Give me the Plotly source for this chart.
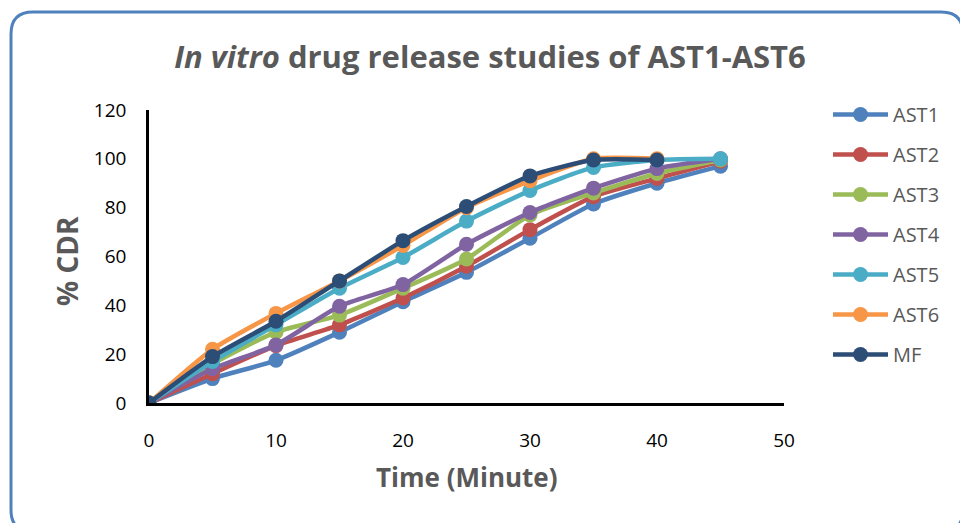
import plotly.graph_objects as go

time_all = [0, 5, 10, 15, 20, 25, 30, 35, 40, 45]
series_names = ["AST1", "AST2", "AST3", "AST4", "AST5", "AST6", "MF"]
ast1 = [0, 10, 17.5, 29, 41.5, 53.5, 67.5, 81.5, 90, 97]
ast2 = [0, 12, 23.5, 32, 43, 56, 71, 84.5, 92, 99]
ast3 = [0, 16, 29, 36, 47, 59, 77, 86, 94, 99.5]
ast4 = [0, 14, 23.8, 39.6, 48.5, 65, 78, 88, 96, 100]
ast5 = [0, 17, 32, 47, 59.6, 74.5, 87, 96.5, 99.5, 100]
ast6 = [0, 22, 36.7, 50, 64.5, 80, 91, 100, 100]
mf = [0, 19, 33.5, 50, 66.5, 80.5, 93, 99.5, 99.5]
series_values = [ast1, ast2, ast3, ast4, ast5, ast6, mf]
colors = ["#4F81BD", "#C0504D", "#9BBB59", "#8064A2", "#4BACC6", "#F79646", "#2C4D75"]
x_ticks = [0, 10, 20, 30, 40, 50]
y_ticks = [0, 20, 40, 60, 80, 100, 120]

W, H = 960, 523
L, R, T, B = 149, 176, 110, 120
pw, ph = W - L - R, H - T - B

fig = go.Figure()
for name, vals, col in zip(series_names, series_values, colors):
    fig.add_trace(go.Scatter(
        x=time_all[:len(vals)], y=vals, name=name, mode="lines+markers",
        line=dict(color=col, width=4.5, shape="spline", smoothing=0.6),
        marker=dict(color=col, size=15),
        legendgroup=name,
    ))

def px(x):
    return (x - L) / pw

def py(y):
    return (H - B - y) / ph

# rounded outer border
x0, x1, y0, y1, r = 11, 963, 12, 532, 22
path = (f"M {px(x0)},{py(y0 + r)} "
        f"Q {px(x0)},{py(y0)} {px(x0 + r)},{py(y0)} "
        f"L {px(x1 - r)},{py(y0)} "
        f"Q {px(x1)},{py(y0)} {px(x1)},{py(y0 + r)} "
        f"L {px(x1)},{py(y1 - r)} "
        f"Q {px(x1)},{py(y1)} {px(x1 - r)},{py(y1)} "
        f"L {px(x0 + r)},{py(y1)} "
        f"Q {px(x0)},{py(y1)} {px(x0)},{py(y1 - r)} Z")

font = "Open Sans"
fig.update_layout(
    width=W, height=H,
    margin=dict(l=L, r=R, t=T, b=B),
    paper_bgcolor="white", plot_bgcolor="white",
    shapes=[dict(type="path", path=path, xref="paper", yref="paper",
                 line=dict(color="#4F81BD", width=3), layer="below")],
    title=dict(text="<i>In vitro</i> drug release studies of AST1-AST6",
               x=490 / W, xanchor="center", y=1 - 57 / H, yanchor="middle",
               font=dict(family=font, size=31, color="#595959", weight="bold")),
    xaxis=dict(range=[0, 50], tickvals=x_ticks, showgrid=False, zeroline=False,
               showline=True, linecolor="black", linewidth=2.5,
               ticks="", ticklabelstandoff=18,
               tickfont=dict(family=font, size=19, color="#000000")),
    yaxis=dict(range=[0, 120], tickvals=y_ticks, showgrid=False, zeroline=False,
               showline=True, linecolor="black", linewidth=2.5,
               ticks="", ticklabelstandoff=16,
               tickfont=dict(family=font, size=19, color="#000000")),
    legend=dict(x=px(828), y=py(95), xanchor="left", yanchor="top",
                font=dict(family=font, size=20, color="#595959"),
                tracegroupgap=11, itemwidth=55, maxheight=450,
                bgcolor="rgba(0,0,0,0)"),
    annotations=[
        dict(text="Time (Minute)", x=px(467), y=py(477), xref="paper", yref="paper",
             showarrow=False, xanchor="center", yanchor="middle",
             font=dict(family=font, size=26, color="#595959", weight="bold")),
        dict(text="% CDR", x=px(67), y=py(261), xref="paper", yref="paper",
             showarrow=False, xanchor="center", yanchor="middle", textangle=-90,
             font=dict(family=font, size=28, color="#595959", weight="bold")),
    ],
)

fig.write_html("out.html")
